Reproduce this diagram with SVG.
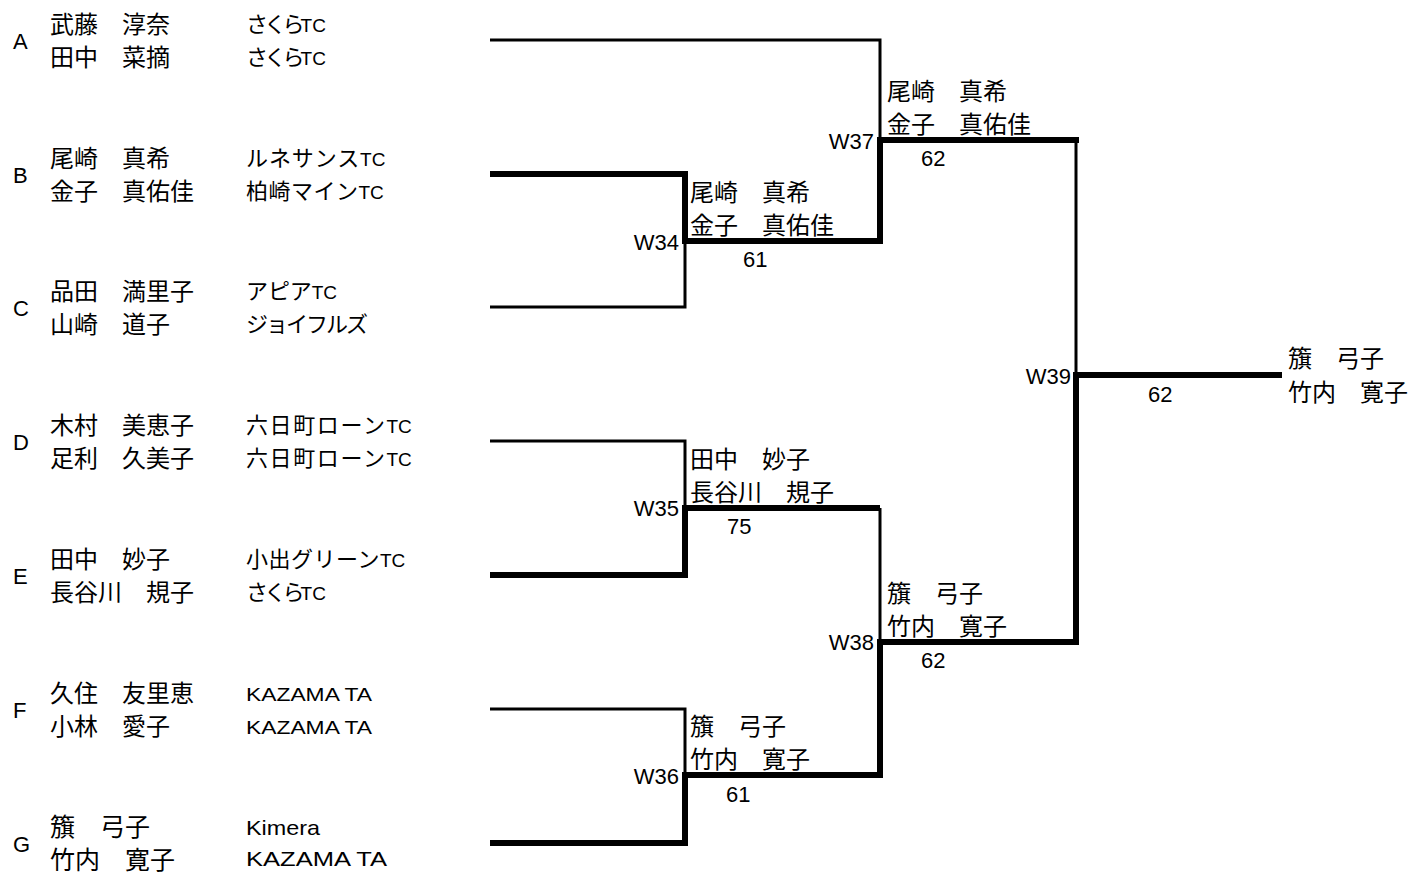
<svg xmlns="http://www.w3.org/2000/svg" width="1412" height="874" viewBox="0 0 1412 874">
<style>
.thin{stroke:#000;stroke-width:3;fill:none}
.thick{stroke:#000;stroke-width:6;fill:none;stroke-linejoin:miter}
.nm{font-family:"Noto Sans CJK JP","Noto Sans CJK SC",sans-serif;font-size:24px;fill:#000}
.nmg{font-family:"Noto Sans CJK JP","Noto Sans CJK SC",sans-serif;font-size:25px;fill:#000}
.cl{font-family:"Liberation Sans","Noto Sans CJK JP",sans-serif;font-size:19px;fill:#000}
.cj{font-family:"Noto Sans CJK JP","Noto Sans CJK SC",sans-serif;font-size:22px}
.la{font-family:"Liberation Sans",Arial,sans-serif;font-size:18.5px;fill:#000}
.lag{font-family:"Liberation Sans",Arial,sans-serif;font-size:21px;fill:#000}
.lt{font-family:"Liberation Sans",Arial,sans-serif;font-size:22px;fill:#000}
.wl{font-family:"Liberation Sans",Arial,sans-serif;font-size:22px;fill:#000;text-anchor:end}
.sc{font-family:"Liberation Sans",Arial,sans-serif;font-size:22px;fill:#000}
</style>
<rect width="1412" height="874" fill="#fff"/>
<g id="connectors">
<path class="thin" d="M490,40 H880 V140"/>
<path class="thin" d="M490,307 H685 V241"/>
<path class="thin" d="M490,441 H685 V508"/>
<path class="thin" d="M490,709 H685 V775"/>
<path class="thin" d="M880,508 V642"/>
<path class="thin" d="M1076,140 V375"/>
<path class="thick" d="M490,174 H685 V241 H880 V140 H1079"/>
<path class="thick" d="M490,575 H685 V508 H880"/>
<path class="thick" d="M490,843 H685 V775 H880 V642 H1076 V375 H1282"/>
</g>
<g id="entry-A">
<text class="lt" x="13" y="49">A</text>
<text class="nm" x="50" y="33">武藤　淳奈</text>
<text class="nm" x="50" y="66">田中　菜摘</text>
<text class="cl" x="246" y="32"><tspan class="cj" letter-spacing="-3.8">さくら</tspan>TC</text>
<text class="cl" x="246" y="65"><tspan class="cj" letter-spacing="-3.8">さくら</tspan>TC</text>
</g>
<g id="entry-B">
<text class="lt" x="13" y="183">B</text>
<text class="nm" x="50" y="167">尾崎　真希</text>
<text class="nm" x="50" y="200">金子　真佑佳</text>
<text class="cl" x="246" y="166"><tspan class="cj" letter-spacing="0.9">ルネサンス</tspan>TC</text>
<text class="cl" x="246" y="199"><tspan class="cj" letter-spacing="0.5">柏崎マイン</tspan>TC</text>
</g>
<g id="entry-C">
<text class="lt" x="13" y="316">C</text>
<text class="nm" x="50" y="300">品田　満里子</text>
<text class="nm" x="50" y="333">山崎　道子</text>
<text class="cl" x="246" y="299"><tspan class="cj" letter-spacing="-0.1">アピア</tspan>TC</text>
<text class="cl" x="246" y="332"><tspan class="cj" letter-spacing="-2">ジョイフルズ</tspan></text>
</g>
<g id="entry-D">
<text class="lt" x="13" y="450">D</text>
<text class="nm" x="50" y="434">木村　美恵子</text>
<text class="nm" x="50" y="467">足利　久美子</text>
<text class="cl" x="246" y="433"><tspan class="cj" letter-spacing="1.6">六日町ローン</tspan>TC</text>
<text class="cl" x="246" y="466"><tspan class="cj" letter-spacing="1.6">六日町ローン</tspan>TC</text>
</g>
<g id="entry-E">
<text class="lt" x="13" y="584">E</text>
<text class="nm" x="50" y="568">田中　妙子</text>
<text class="nm" x="50" y="601">長谷川　規子</text>
<text class="cl" x="246" y="567"><tspan class="cj" letter-spacing="0.5">小出グリーン</tspan>TC</text>
<text class="cl" x="246" y="600"><tspan class="cj" letter-spacing="-3.8">さくら</tspan>TC</text>
</g>
<g id="entry-F">
<text class="lt" x="13" y="718">F</text>
<text class="nm" x="50" y="702">久住　友里恵</text>
<text class="nm" x="50" y="735">小林　愛子</text>
<text class="la" x="246" y="701" textLength="126" lengthAdjust="spacingAndGlyphs">KAZAMA TA</text>
<text class="la" x="246" y="734" textLength="126" lengthAdjust="spacingAndGlyphs">KAZAMA TA</text>
</g>
<g id="entry-G">
<text class="lt" x="13" y="852">G</text>
<text class="nmg" x="50" y="836">籏　弓子</text>
<text class="nmg" x="50" y="869">竹内　寛子</text>
<text class="lag" x="246" y="835" textLength="74" lengthAdjust="spacingAndGlyphs">Kimera</text>
<text class="lag" x="246" y="866" textLength="141" lengthAdjust="spacingAndGlyphs">KAZAMA TA</text>
</g>
<g id="match-W34">
<text class="wl" x="679" y="250">W34</text>
<text class="nm" x="690" y="201">尾崎　真希</text>
<text class="nm" x="690" y="234">金子　真佑佳</text>
<text class="sc" x="743" y="267">61</text>
</g>
<g id="match-W35">
<text class="wl" x="679" y="516">W35</text>
<text class="nm" x="690" y="468">田中　妙子</text>
<text class="nm" x="690" y="501">長谷川　規子</text>
<text class="sc" x="727" y="534">75</text>
</g>
<g id="match-W36">
<text class="wl" x="679" y="784">W36</text>
<text class="nm" x="690" y="735">籏　弓子</text>
<text class="nm" x="690" y="768">竹内　寛子</text>
<text class="sc" x="726" y="802">61</text>
</g>
<g id="match-W37">
<text class="wl" x="874" y="149">W37</text>
<text class="nm" x="887" y="100">尾崎　真希</text>
<text class="nm" x="887" y="133">金子　真佑佳</text>
<text class="sc" x="921" y="166">62</text>
</g>
<g id="match-W38">
<text class="wl" x="874" y="650">W38</text>
<text class="nm" x="887" y="602">籏　弓子</text>
<text class="nm" x="887" y="635">竹内　寛子</text>
<text class="sc" x="921" y="668">62</text>
</g>
<g id="match-W39">
<text class="wl" x="1071" y="384">W39</text>
<text class="sc" x="1148" y="402">62</text>
<text class="nm" x="1288" y="367">籏　弓子</text>
<text class="nm" x="1288" y="401">竹内　寛子</text>
</g>
</svg>
